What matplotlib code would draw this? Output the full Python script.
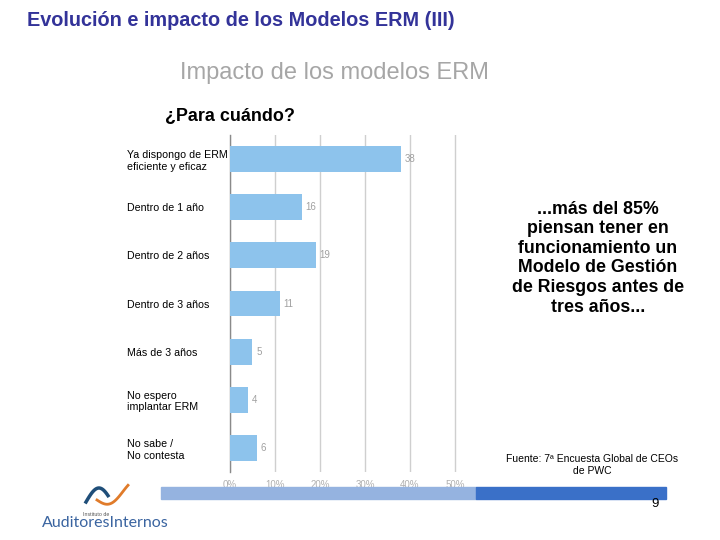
import matplotlib.pyplot as plt
import matplotlib.patches as mpatches
from matplotlib.lines import Line2D
import numpy as np

# Data
categories = ['Ya dispongo de ERM\neficiente y eficaz', 'Dentro de 1 año', 'Dentro de 2 años',
              'Dentro de 3 años', 'Más de 3 años', 'No espero\nimplantar ERM',
              'No sabe /\nNo contesta']
values = [38, 16, 19, 11, 5, 4, 6]
xticks = [0, 10, 20, 30, 40, 50]
xtick_labels = ['0%', '10%', '20%', '30%', '40%', '50%']

plt.rcParams['font.family'] = ['Liberation Sans', 'DejaVu Sans']

W, H = 720, 540
fig = plt.figure(figsize=(7.2, 5.4), dpi=100)


def fx(px):
    return px / W


def fy(py):
    return 1 - py / H


ax = fig.add_axes([fx(230), fy(472), (464 - 230) / W, (472 - 135) / H])
y = np.arange(len(categories))
ax.barh(y, values, height=0.54, color='#8DC3EC', zorder=3)
for yi, v in zip(y, values):
    ax.text(v + 0.8, yi, str(v), va='center', ha='left', fontsize=7, color='#a0a0a0')

ax.set_xlim(0, 52)
ax.set_ylim(6.5, -0.5)
ax.set_xticks(xticks)
ax.set_xticklabels(xtick_labels, fontsize=7, color='#b0b0b0')
ax.set_yticks(y)
ax.set_yticklabels(categories, fontsize=7.7, ha='left', linespacing=1.2)
ax.tick_params(axis='y', length=0, pad=74)
ax.tick_params(axis='x', length=0, pad=6)
ax.xaxis.grid(True, color='#cfcfcf', linewidth=1.0, zorder=0)
for s in ['top', 'right', 'bottom']:
    ax.spines[s].set_visible(False)
ax.spines['left'].set_color('#8a8a8a')
ax.spines['left'].set_linewidth(1.0)

# Titles
fig.text(fx(27), fy(21), 'Evolución e impacto de los Modelos ERM (III)', fontsize=14.3,
         fontweight='bold', color='#333399', ha='left', va='center')
fig.text(fx(180), fy(73), 'Impacto de los modelos ERM', fontsize=17, color='#a6a6a6',
         ha='left', va='center')
fig.text(fx(165), fy(116), '¿Para cuándo?', fontsize=12.9, fontweight='bold',
         color='black', ha='left', va='center')

# Commentary
fig.text(fx(598), fy(258),
         '...más del 85%\npiensan tener en\nfuncionamiento un\nModelo de Gestión\n'
         'de Riesgos antes de\ntres años...',
         fontsize=12.8, fontweight='bold', ha='center', va='center', linespacing=1.2)
fig.text(fx(592), fy(465), 'Fuente: 7ª Encuesta Global de CEOs\nde PWC', fontsize=7.5,
         ha='center', va='center', linespacing=1.2)

# Bottom bands
fig.patches.append(mpatches.Rectangle((fx(161), fy(499)), (476 - 161) / W, 12 / H,
                                      transform=fig.transFigure, color='#95B3E0', zorder=0))
fig.patches.append(mpatches.Rectangle((fx(476), fy(499)), (666 - 476) / W, 12 / H,
                                      transform=fig.transFigure, color='#3A70C8', zorder=0))
fig.text(fx(655), fy(504), '9', fontsize=9.5, ha='center', va='center')

# Logo
t = np.linspace(0, 1, 30)
arch_x = 86 + 22 * t
arch_y = 502 - 14 * np.sin(np.pi * t * 0.85)
fig.add_artist(Line2D(fx(arch_x), fy(arch_y), color='#1f4e79', linewidth=2.5,
                      transform=fig.transFigure))
orange_x = 97 + 31 * t
orange_y = 500 + 8 * np.sin(np.pi * t * 1.2) - 10 * t
fig.add_artist(Line2D(fx(orange_x), fy(orange_y), color='#e07b2a', linewidth=2.0,
                      transform=fig.transFigure))
fig.text(fx(96), fy(515), 'Instituto de', fontsize=3.8, color='#555555', ha='center', va='center')
fig.text(fx(42), fy(523), 'AuditoresInternos', fontsize=11.5, color='#3a64a0', ha='left',
         va='center', family='Lato')

fig.savefig('out.png', dpi=100)
